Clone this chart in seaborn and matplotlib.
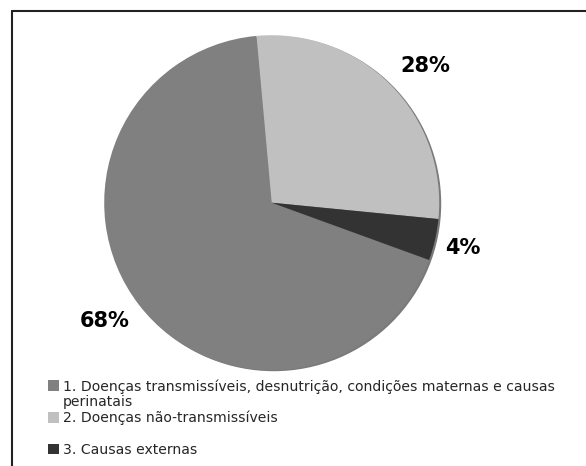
import matplotlib
matplotlib.use("Agg")
import numpy as np
import matplotlib.pyplot as plt
import seaborn as sns
from matplotlib.patches import Patch, Circle
from matplotlib.lines import Line2D

sns.set_style("white")
plt.rcParams['font.family'] = ['DejaVu Sans']

# data
categories = [
    "1. Doenças transmissíveis, desnutrição, condições maternas e causas",
    "2. Doenças não-transmissíveis",
    "3. Causas externas",
]
extra_line = "perinatais"
values = [68, 28, 4]
colors = ["#808080", "#c0c0c0", "#333333"]

# label layout (radial distance and angular nudge, degrees)
label_dist = [1.221, 1.226, 1.175]
label_nudge = [-2.3, -3.1, -0.4]

W, H = 586, 466
fig = plt.figure(figsize=(W / 100, H / 100), dpi=100)
fig.patch.set_facecolor("white")

cx, cy, r = 271.7, 202.7, 167.5
ax = fig.add_axes([(cx - r) / W, 1 - (cy + r) / H, 2 * r / W, 2 * r / H])

# subtle shadow on the right side
ax.add_patch(Circle((0.012, -0.006), 1.0, facecolor="#7a7a7a",
                    edgecolor="none", zorder=0, clip_on=False))

wedges, texts, autotexts = ax.pie(
    values, colors=colors, startangle=-20, counterclock=False,
    autopct=lambda p: f"{p:.0f}%", pctdistance=1.22,
    wedgeprops=dict(linewidth=0),
    textprops=dict(fontsize=15, fontweight="bold", color="black"),
)
for w in wedges:
    w.set_clip_on(False)
for w, t, d, n in zip(wedges, autotexts, label_dist, label_nudge):
    ang = np.deg2rad((w.theta1 + w.theta2) / 2 + n)
    t.set_position((d * np.cos(ang), d * np.sin(ang)))
    t.set_clip_on(False)

ax.set_xlim(-1, 1)
ax.set_ylim(-1, 1)
ax.set_aspect("equal")
ax.axis("off")

# legend (five rows to reproduce spacing)
blank = Patch(facecolor="none", edgecolor="none")
handles = [
    Patch(facecolor=colors[0], edgecolor="none"), blank,
    Patch(facecolor=colors[1], edgecolor="none"), blank,
    Patch(facecolor=colors[2], edgecolor="none"),
]
labels = [categories[0], extra_line, categories[1], " ", categories[2]]
fig.legend(
    handles, labels, loc="upper left",
    bbox_to_anchor=(48 / W, 1 - 379 / H), bbox_transform=fig.transFigure,
    frameon=False, fontsize=10.1, labelspacing=0.12,
    handlelength=0.78, handleheight=0.78, handletextpad=0.28,
    borderpad=0, borderaxespad=0,
)

# outer frame (top and left edges visible)
fig.add_artist(Line2D([11.5 / W, 1.0], [1 - 11 / H, 1 - 11 / H],
                      transform=fig.transFigure, color="#222222", lw=1.5))
fig.add_artist(Line2D([11.5 / W, 11.5 / W], [0.0, 1 - 11 / H],
                      transform=fig.transFigure, color="#222222", lw=1.5))

fig.savefig("out.png", dpi=100)
